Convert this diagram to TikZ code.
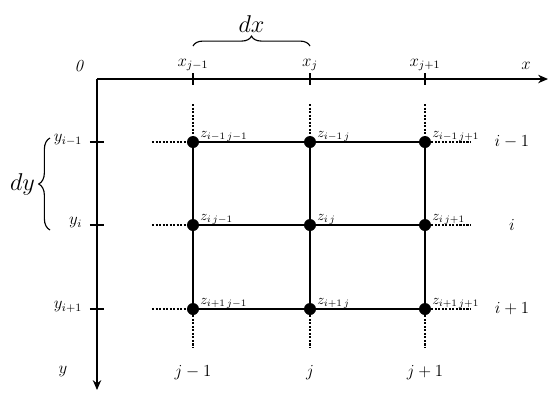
\documentclass[tikz,border=0pt]{standalone}
\usepackage{amsmath,amssymb}
\usepackage{tikz}
\usetikzlibrary{arrows.meta,decorations.pathreplacing}

\begin{document}
\begin{tikzpicture}[x=0.025cm, y=-0.025cm, >={Stealth[length=7pt,width=6pt]},
  every node/.style={font=\large},
  dot/.style={circle, fill, inner sep=0pt, minimum size=0.3cm},
  zlab/.style={anchor=west, inner sep=0pt, font=\normalsize},
  stub/.style={line width=0.8pt, dash pattern=on 1.5pt off 1pt},
  grid line/.style={line width=0.8pt}]
\useasboundingbox (0,0) rectangle (549,404);
% axes
\coordinate (O) at (97,79); \coordinate (xend) at (548,79); \coordinate (yend) at (97,390);
\draw[->, line width=1.1pt] (O) -- (xend);
\draw[->, line width=1.1pt] (O) -- (yend);
\node (zero) at (80,66) {$\mathit{0}$};
\node (xlab) at (526,66) {$x$};
\node (ylab) at (63,372) {$y$};
% ticks and axis labels
\foreach \x/\s in {193/{j-1},310/j,425/{j+1}} {
  \draw[line width=1pt] (\x,73) -- (\x,85);
  \node at (\x,65) {$x_{\s}$};
  \node at (\x,373) {$\s$};
}
\foreach \y/\s/\t in {142/{i-1}/{i-1},225/i/i,309/{i+1}/{i+1}} {
  \draw[line width=1pt] (90,\y) -- (104,\y);
  \node[anchor=east] at (87,\y-2) {$y_{\s}$};
  \node at (512,\y) {$\t$};
}
% braces
\draw[decorate, decoration={brace, amplitude=7pt}, line width=0.8pt] (193,46) -- (310,46)
  node[midway, above=6pt, font=\LARGE] (dx) {$dx$};
\draw[decorate, decoration={brace, amplitude=8pt}, line width=0.8pt] (50,230) -- (50,138)
  node[midway, left=7pt, font=\LARGE] (dy) {$dy$};
% grid points
\foreach \c/\x/\cj in {1/193/{j-1},2/310/j,3/425/{j+1}}
  \foreach \r/\y/\ri in {1/142/{i-1},2/225/i,3/309/{i+1}} {
    \node[dot] (n\r\c) at (\x,\y) {};
    \node[zlab] at (\x+7,\y-6) {$z_{\ri\,\cj}$};
  }
\foreach \r/\y in {1/142,2/225,3/309} {
  \draw[grid line] (n\r1) -- (n\r2) -- (n\r3);
  \draw[stub] (152,\y) -- (n\r1);
  \draw[stub] (n\r3) -- (470,\y);
}
\foreach \c/\x in {1/193,2/310,3/425} {
  \draw[grid line] (n1\c) -- (n2\c) -- (n3\c);
  \draw[stub] (\x,104) -- (n1\c);
  \draw[stub] (n3\c) -- (\x,348);
}
\end{tikzpicture}
\end{document}
